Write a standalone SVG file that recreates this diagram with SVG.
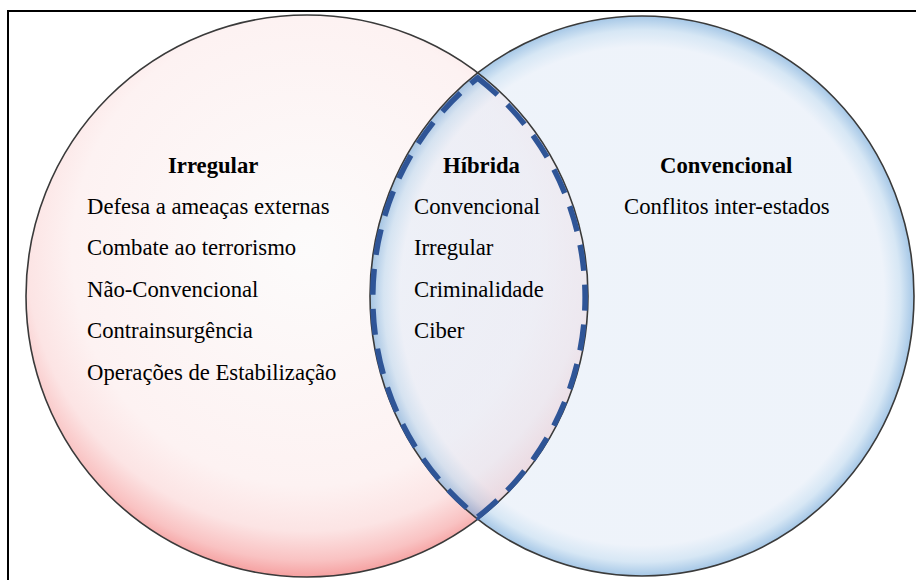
<svg xmlns="http://www.w3.org/2000/svg" width="916" height="580" viewBox="0 0 916 580">
  <defs>
    <!-- pink disc: pale core, rose rim that deepens toward the bottom -->
    <radialGradient id="pinkFill" cx="0.5" cy="0.42" r="0.58">
      <stop offset="0" stop-color="#fcfbfb"/>
      <stop offset="0.72" stop-color="#fdf2f2"/>
      <stop offset="0.86" stop-color="#fce4e4"/>
      <stop offset="0.95" stop-color="#f9c2c2"/>
      <stop offset="1" stop-color="#f5a0a0"/>
    </radialGradient>
    <!-- blue disc: flat pale core with a soft blue rim -->
    <radialGradient id="blueFill" cx="0.5" cy="0.5" r="0.5">
      <stop offset="0" stop-color="#e3ebf7"/>
      <stop offset="0.89" stop-color="#e3ebf7"/>
      <stop offset="0.95" stop-color="#bcd7ee"/>
      <stop offset="1" stop-color="#6aa2d6"/>
    </radialGradient>
  </defs>
  <style>
    .ring { fill: none; stroke: #3a3a3a; stroke-width: 1.6; }
    .lens { fill: none; stroke: #2f5597; stroke-width: 5.5; stroke-dasharray: 26 14; }
    text { font-family: "Liberation Serif", "Times New Roman", serif; font-size: 22.7px; fill: #000; }
    .title { font-weight: bold; }
  </style>

  <rect width="916" height="580" fill="#ffffff"/>
  <!-- frame, open to the right and bottom -->
  <rect x="8" y="11" width="940" height="620" fill="none" stroke="#000" stroke-width="2"/>

  <!-- disc fills -->
  <circle cx="307" cy="296" r="281" fill="url(#pinkFill)"/>
  <ellipse cx="642" cy="296" rx="272" ry="280" fill="url(#blueFill)" fill-opacity="0.6"/>

  <!-- disc outlines -->
  <circle class="ring" cx="307" cy="296" r="281"/>
  <ellipse class="ring" cx="642" cy="296" rx="272" ry="280"/>

  <g id="irregular">
    <text class="title" x="168" y="173">Irregular</text>
    <text x="87" y="214">Defesa a ameaças externas</text>
    <text x="87" y="255">Combate ao terrorismo</text>
    <text x="87" y="297">Não-Convencional</text>
    <text x="87" y="338">Contrainsurgência</text>
    <text x="87" y="380">Operações de Estabilização</text>
  </g>

  <g id="hibrida">
    <path class="lens" d="M477.7 78 A278 278 0 0 1 477.7 517 A269 277 0 0 1 477.7 78 Z"/>
    <text class="title" x="443" y="173">Híbrida</text>
    <text x="414" y="214">Convencional</text>
    <text x="414" y="255">Irregular</text>
    <text x="414" y="297">Criminalidade</text>
    <text x="414" y="338">Ciber</text>
  </g>

  <g id="convencional">
    <text class="title" x="660" y="173">Convencional</text>
    <text x="624" y="214">Conflitos inter-estados</text>
  </g>

  <g id="connectors"/>
</svg>
